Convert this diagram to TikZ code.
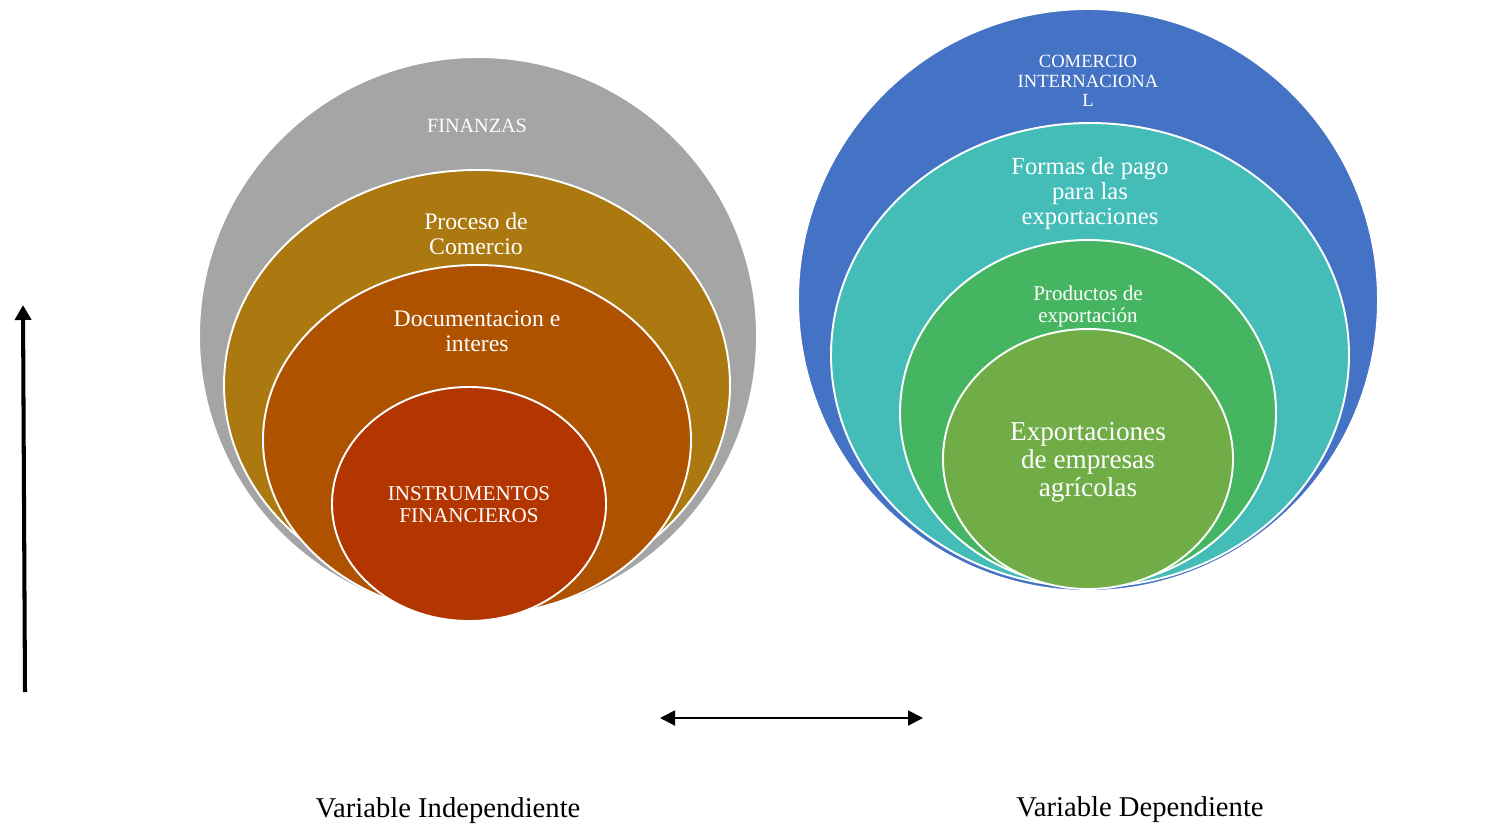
\documentclass[tikz,border=0pt]{standalone}
\usepackage{fontspec}
\setmainfont{Liberation Serif}
\usepackage{tikz}
\usetikzlibrary{arrows.meta}

\definecolor{cGris}{HTML}{A5A5A5}
\definecolor{cOro}{HTML}{AC7810}
\definecolor{cNaranja}{HTML}{AE5200}
\definecolor{cRojo}{HTML}{B33500}
\definecolor{cAzul}{HTML}{4472C4}
\definecolor{cTurquesa}{HTML}{44BDB8}
\definecolor{cVerde}{HTML}{46B562}
\definecolor{cOliva}{HTML}{70AD47}

\begin{document}
\begin{tikzpicture}[x=0.02cm, y=-0.02cm]
\tikzstyle{capa} = [draw=white, line width=1.1pt]
\tikzstyle{rotulo} = [text=white, align=center, inner sep=0pt]
\tikzstyle{flecha} = [draw=black]
\useasboundingbox (0,0) rectangle (1497,828);
% variable independiente
\path[capa, fill=cGris] (478,336) ellipse (279 and 279);
\path[capa, fill=cOro] (477,385) ellipse (253 and 215);
\path[capa, fill=cNaranja] (477,440) ellipse (214 and 175);
\path[capa, fill=cRojo] (469,504) ellipse (137 and 117);
\node[rotulo, font=\fontsize{11.5}{12}\selectfont] (finanzas) at (477,126) {FINANZAS};
\node[rotulo, font=\fontsize{13.5}{14.2}\selectfont] (proceso) at (476,234) {Proceso de\\Comercio};
\node[rotulo, font=\fontsize{13.5}{14.2}\selectfont] (docum) at (477,331) {Documentacion e\\interes};
\node[rotulo, font=\fontsize{12}{12.5}\selectfont] (instr) at (469,505) {INSTRUMENTOS\\FINANCIEROS};
% variable dependiente
\path[capa, fill=cAzul] (1088,300) ellipse (290 and 291);
\path[capa, fill=cTurquesa] (1090,355) ellipse (259 and 232);
\path[capa, fill=cVerde] (1088,413) ellipse (188 and 173);
\path[capa, fill=cOliva] (1088,459) ellipse (145 and 130);
\node[rotulo, font=\fontsize{10.6}{11.1}\selectfont] (comercio) at (1088,81) {COMERCIO\\INTERNACIONA\\L};
\node[rotulo, font=\fontsize{14}{14.2}\selectfont] (formas) at (1090,194) {Formas de pago\\para las\\exportaciones};
\node[rotulo, font=\fontsize{12}{12.5}\selectfont] (productos) at (1088,306) {Productos de\\exportación};
\node[rotulo, font=\fontsize{15.5}{15.9}\selectfont] (export) at (1088,462) {Exportaciones\\de empresas\\agrícolas};
% flechas y etiquetas
\coordinate (v_0) at (25,692);
\coordinate (v_1) at (23,305);
\coordinate (h_0) at (660,718);
\coordinate (h_1) at (923,718);
\path[flecha, -{Triangle[length=0.3cm, width=0.32cm]}, line width=2.3pt] (v_0) -- (v_1);
\path[flecha, {Triangle[length=0.3cm, width=0.3cm]}-{Triangle[length=0.3cm, width=0.3cm]}, line width=1.1pt] (h_0) -- (h_1);
\node[font=\fontsize{16.3}{17}\selectfont, inner sep=0pt] (indep) at (448,811) {Variable Independiente};
\node[font=\fontsize{16.3}{17}\selectfont, inner sep=0pt] (dep) at (1140,810) {Variable Dependiente};
\end{tikzpicture}
\end{document}
